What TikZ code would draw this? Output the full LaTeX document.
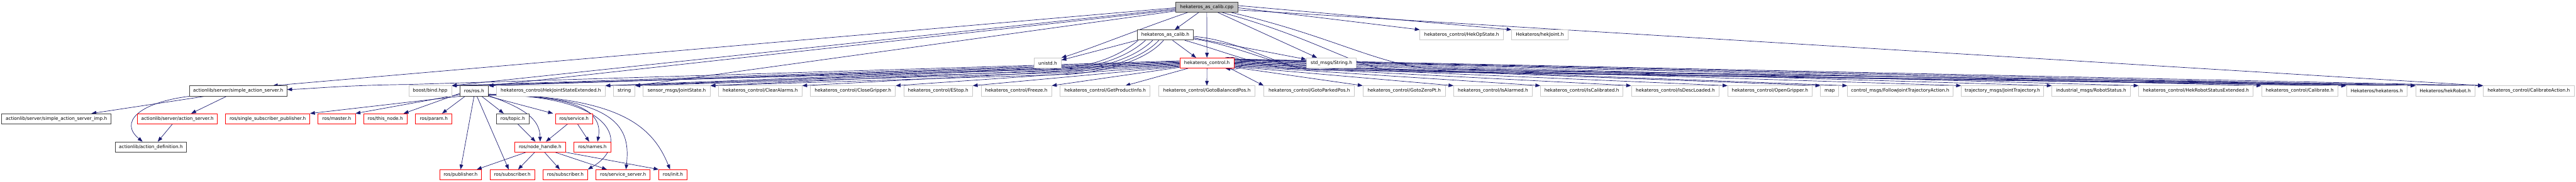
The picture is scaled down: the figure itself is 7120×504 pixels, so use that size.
\documentclass[tikz,border=0pt]{standalone}
\usepackage{fontspec}
\setmainfont{DejaVu Sans}
\usetikzlibrary{arrows.meta,calc}
\pgfdeclarelayer{bg}
\pgfsetlayers{bg,main}
\definecolor{edgeblue}{HTML}{191970}
\definecolor{darkb}{HTML}{404040}
\definecolor{lightb}{HTML}{C8C8C8}
\definecolor{mainfill}{HTML}{BFBFBF}
\begin{document}
\begin{tikzpicture}[x=0.5pt,y=-0.5pt,
  box/.style={rectangle, draw, fill=white, minimum height=14pt, inner xsep=1pt, inner ysep=0pt, line width=0.75pt, font=\fontsize{6.37pt}{7.6pt}\selectfont, text=black},
  mainbox/.style={box, fill=mainfill, draw=darkb},
  docbox/.style={box, draw=darkb},
  redbox/.style={box, draw=red},
  extbox/.style={box, draw=lightb},
  dep/.style={draw=edgeblue, line width=0.6pt, -{Triangle[length=6.7pt,width=5pt]}}
]
\useasboundingbox (0,0) rectangle (7120,504);
% row 0-2
\node[mainbox, minimum width=85.5pt] (cpp) at (3335.5,19.5) {hekateros\_as\_calib.cpp};
\node[docbox, minimum width=78pt] (ash) at (3221,97) {hekateros\_as\_calib.h};
\node[extbox, minimum width=115.2pt] (opst) at (4040,97) {hekateros\_control/HekOpState.h};
\node[extbox, minimum width=77.5pt] (hjoint) at (4256,97) {Hekateros/hekJoint.h};
\node[redbox, minimum width=75pt] (ctrl) at (3336,174.5) {hekateros\_control.h};
\node[extbox, minimum width=37pt] (unistd) at (2896,174.5) {unistd.h};
\node[extbox, minimum width=69pt] (strmsg) at (3680,174.5) {std\_msgs/String.h};
% row 3
\node[docbox, minimum width=134.75pt] (sas) at (658.25,252) {actionlib/server/simple\_action\_server.h};
\node[extbox, minimum width=59pt] (bind) at (1189,252) {boost/bind.hpp};
\node[docbox, minimum width=39.25pt] (ros) at (1310.25,252) {ros/ros.h};
\node[extbox, minimum width=150pt] (hjse) at (1522.5,252) {hekateros\_control/HekJointStateExtended.h};
\node[extbox, minimum width=29.5pt] (string) at (1725.5,252) {string};
\node[extbox, minimum width=92.5pt] (jstate) at (1870.5,252) {sensor\_msgs/JointState.h};
\node[extbox, minimum width=115.3pt] (clr) at (2101.3,252) {hekateros\_control/ClearAlarms.h};
\node[extbox, minimum width=117.5pt] (close) at (2357.5,252) {hekateros\_control/CloseGripper.h};
\node[extbox, minimum width=95pt] (estop) at (2593,252) {hekateros\_control/EStop.h};
\node[extbox, minimum width=97.4pt] (freeze) at (2809.1,252) {hekateros\_control/Freeze.h};
\node[extbox, minimum width=124pt] (gpi) at (3054.5,252) {hekateros\_control/GetProductInfo.h};
\node[extbox, minimum width=133.2pt] (gbal) at (3335.8,252) {hekateros\_control/GotoBalancedPos.h};
\node[extbox, minimum width=125.3pt] (gpark) at (3618.7,252) {hekateros\_control/GotoParkedPos.h};
\node[extbox, minimum width=114.2pt] (gzero) at (3881.2,252) {hekateros\_control/GotoZeroPt.h};
\node[extbox, minimum width=108.5pt] (isal) at (4126.5,252) {hekateros\_control/IsAlarmed.h};
\node[extbox, minimum width=114pt] (iscal) at (4372,252) {hekateros\_control/IsCalibrated.h};
\node[extbox, minimum width=121.5pt] (isdesc) at (4630.5,252) {hekateros\_control/IsDescLoaded.h};
\node[extbox, minimum width=116.5pt] (open) at (4892,252) {hekateros\_control/OpenGripper.h};
\node[extbox, minimum width=25.2pt] (map) at (5057.2,252) {map};
\node[extbox, minimum width=145.5pt] (fjta) at (5252,252) {control\_msgs/FollowJointTrajectoryAction.h};
\node[extbox, minimum width=113.5pt] (jtraj) at (5534.5,252) {trajectory\_msgs/JointTrajectory.h};
\node[extbox, minimum width=108.2pt] (rstat) at (5779.8,252) {industrial\_msgs/RobotStatus.h};
\node[extbox, minimum width=158pt] (hrse) at (6069.5,252) {hekateros\_control/HekRobotStatusExtended.h};
\node[extbox, minimum width=105.2pt] (calib) at (6356.2,252) {hekateros\_control/Calibrate.h};
\node[extbox, minimum width=83.75pt] (hek) at (6569.25,252) {Hekateros/hekateros.h};
\node[extbox, minimum width=81.5pt] (hrob) at (6758.5,252) {Hekateros/hekRobot.h};
\node[extbox, minimum width=125.6pt] (cact) at (6989.2,252) {hekateros\_control/CalibrateAction.h};
% row 4
\node[docbox, minimum width=151.2pt] (imp) at (155.8,329) {actionlib/server/simple\_action\_server\_imp.h};
\node[redbox, minimum width=110.5pt] (asrv) at (490.5,329) {actionlib/server/action\_server.h};
\node[redbox, minimum width=116.2pt] (ssp) at (739.9,329) {ros/single\_subscriber\_publisher.h};
\node[redbox, minimum width=51.5pt] (master) at (930.5,329) {ros/master.h};
\node[redbox, minimum width=60pt] (thisn) at (1065,329) {ros/this\_node.h};
\node[redbox, minimum width=50.2pt] (param) at (1198.9,329) {ros/param.h};
\node[docbox, minimum width=44.8pt] (topic) at (1417.2,329) {ros/topic.h};
\node[redbox, minimum width=51.5pt] (service) at (1586.5,329) {ros/service.h};
% row 5
\node[docbox, minimum width=97.6pt] (adef) at (417.1,407) {actionlib/action\_definition.h};
\node[redbox, minimum width=70pt] (nh) at (1493,407) {ros/node\_handle.h};
\node[redbox, minimum width=51.6pt] (names) at (1637.4,407) {ros/names.h};
% row 6
\node[redbox, minimum width=57.4pt] (pub) at (1273,484) {ros/publisher.h};
\node[redbox, minimum width=61.5pt] (sub1) at (1416,484) {ros/subscriber.h};
\node[redbox, minimum width=61.6pt] (sub2) at (1562.4,484) {ros/subscriber.h};
\node[redbox, minimum width=74.5pt] (ss) at (1722.2,484) {ros/service\_server.h};
\node[redbox, minimum width=39pt] (init) at (1860,484) {ros/init.h};

\begin{pgfonlayer}{bg}
% lower part
\draw[dep] ($(sas.south)+(-92,0)$) -- ($(imp.north)+(97,0)$);
\draw[dep] (sas.south west) .. controls (380,285) and (330,340) .. ($(adef.north)+(-23,0)$);
\draw[dep] ($(sas.south)+(-32,0)$) -- ($(asrv.north)+(38,0)$);
\draw[dep] ($(asrv.south)+(-14,0)$) -- ($(adef.north)+(19,0)$);
\draw[dep] (ros.south west) -- (ssp.north east);
\draw[dep] ($(ros.west)+(0,10)$) -- (master.north east);
\draw[dep] ($(ros.west)+(0,7)$) -- ($(thisn.north east)+(-10,0)$);
\draw[dep] ($(ros.south)+(-25,0)$) -- ($(param.north)+(23,0)$);
\draw[dep] ($(ros.south)+(21,0)$) -- ($(topic.north)+(-25,0)$);
\draw[dep] (ros.south east) -- ($(service.north)+(-58,0)$);
\draw[dep] ($(ros.south east)+(0,-2)$) .. controls (1450,300) and (1492,330) .. (nh.north);
\draw[dep] ($(ros.south east)+(0,-3)$) .. controls (1620,262) and (1665,320) .. ($(names.north)+(14,0)$);
\draw[dep] ($(ros.south east)+(0,-4)$) .. controls (1700,262) and (1745,400) .. (sub2.north east);
\draw[dep] ($(ros.south east)+(0,-5)$) .. controls (1720,268) and (1742,360) .. ($(ss.north)+(8,0)$);
\draw[dep] ($(ros.south east)+(0,-6)$) .. controls (1700,268) and (1800,340) .. ($(init.north)+(-8,0)$);
\draw[dep] (ros.south) -- (pub.north);
\draw[dep] ($(ros.south)+(8,0)$) -- ($(sub1.north)+(-10,0)$);
\draw[dep] ($(topic.south)+(14,0)$) -- ($(nh.north)+(-13,0)$);
\draw[dep] ($(service.south)+(-18,0)$) -- ($(nh.north)+(16,0)$);
\draw[dep] ($(service.south)+(10,0)$) -- ($(names.north)+(-9,0)$);
\draw[dep] ($(nh.south)+(-39,0)$) -- ($(pub.north)+(45,0)$);
\draw[dep] ($(nh.south)+(-15,0)$) -- ($(sub1.north)+(16,0)$);
\draw[dep] ($(nh.south)+(12,0)$) -- ($(sub2.north)+(-15,0)$);
\draw[dep] ($(nh.south)+(41,0)$) -- ($(ss.north)+(-45,0)$);
\draw[dep] (nh.south east) -- (init.north west);
% from cpp
\draw[dep] ($(cpp.south)+(-22,0)$) -- ($(ash.north)+(26,0)$);
\draw[dep] (cpp.south) -- (ctrl.north);
\draw[dep] ($(cpp.south)+(-52,0)$) .. controls (3150,80) and (3000,140) .. (unistd.north east);
\draw[dep] ($(cpp.west)+(0,2)$) -- ($(sas.north)+(96,0)$);
\draw[dep] ($(cpp.west)+(0,5)$) -- (bind.north east);
\draw[dep] ($(cpp.west)+(0,8)$) -- (ros.north east);
\draw[dep] ($(cpp.west)+(0,11)$) -- (string.north east);
\draw[dep] ($(cpp.east)+(0,-4)$) -- (hjoint.north west);
\draw[dep] ($(cpp.east)+(0,2)$) -- (opst.north west);
\draw[dep] ($(cpp.south)+(30,0)$) -- ($(strmsg.north)+(-40,0)$);
\draw[dep] ($(cpp.east)+(0,8)$) -- (cact.north west);
\draw[dep] ($(cpp.south east)+(-45,0)$) .. controls (3650,110) and (3740,185) .. (3860,198) -- (hek.north west);
\draw[dep] ($(cpp.south east)+(-20,0)$) .. controls (3680,100) and (3800,175) .. (3950,190) -- (hrob.north west);
% from ash
\draw[dep] ($(ash.south)+(20,0)$) -- ($(ctrl.north)+(-30,0)$);
\draw[dep] (ash.south west) -- ($(unistd.east)+(0,-8)$);
\draw[dep] ($(ash.east)+(0,8)$) -- ($(strmsg.west)+(0,-10)$);
\draw[dep] ($(ash.south)+(-75,0)$) .. controls +(-60,50) and +(60,-3) .. (2950,186) -- (ros.north east);
\draw[dep] ($(ash.south)+(-55,0)$) .. controls +(-60,55) and +(60,-3) .. (2950,191) -- (bind.north east);
\draw[dep] ($(ash.south)+(-35,0)$) .. controls +(-60,60) and +(60,-3) .. (2950,196) -- (hjse.north east);
\draw[dep] ($(ash.south)+(-18,0)$) .. controls +(-60,65) and +(60,-3) .. (2950,201) -- (string.north east);
\draw[dep] ($(ash.south)+(-5,0)$) .. controls +(-60,70) and +(60,-3) .. (2950,206) -- (jstate.north east);
\draw[dep] ($(ash.east)+(0,4)$) .. controls +(120,10) and +(-80,-12) .. (3600,188) -- (cact.north west);
\draw[dep] ($(ash.east)+(0,11)$) .. controls +(110,15) and +(-80,-10) .. (3620,194) -- (hrob.north west);
\draw[dep] ($(ash.south east)+(-25,0)$) .. controls +(90,25) and +(-80,-8) .. (3560,190) -- (hek.north west);
% from ctrl
\draw[dep] (ctrl.north east) ++(-25,0) .. controls ($(ctrl.north east)+(35,-8)$) and ($(ctrl.south east)+(35,8)$) .. ($(ctrl.south east)+(-25,0)$);
\draw[dep] ($(ctrl.west)+(0,-6)$) -- (1130,234) .. controls (950,236) and (860,246) .. ($(sas.east)+(0,-4)$);
\draw[dep] ($(ctrl.west)+(0,-4)$) -- (bind.north east);
\draw[dep] ($(ctrl.west)+(0,-2)$) -- (ros.north east);
\draw[dep] ($(ctrl.west)+(0,0)$) -- (hjse.north east);
\draw[dep] ($(ctrl.west)+(0,2)$) -- (string.north east);
\draw[dep] ($(ctrl.west)+(0,4)$) -- (jstate.north east);
\draw[dep] ($(ctrl.west)+(0,6)$) -- (clr.north east);
\draw[dep] ($(ctrl.west)+(0,8)$) -- (close.north east);
\draw[dep] ($(ctrl.west)+(0,10)$) -- (estop.north east);
\draw[dep] ($(ctrl.west)+(0,12)$) -- (freeze.north east);
\draw[dep] ($(ctrl.south)+(-52,0)$) -- ($(gpi.north)+(56,0)$);
\draw[dep] (ctrl.south) -- (gbal.north);
\draw[dep] ($(ctrl.south east)+(-12,0)$) -- (gpark.north west);
\draw[dep] ($(ctrl.east)+(0,12)$) -- (gzero.north west);
\draw[dep] ($(ctrl.east)+(0,10)$) -- (isal.north west);
\draw[dep] ($(ctrl.east)+(0,8)$) -- (iscal.north west);
\draw[dep] ($(ctrl.east)+(0,6)$) -- (isdesc.north west);
\draw[dep] ($(ctrl.east)+(0,4)$) -- (open.north west);
\draw[dep] ($(ctrl.east)+(0,2)$) -- (map.north west);
\draw[dep] ($(ctrl.east)+(0,0)$) -- (fjta.north west);
\draw[dep] ($(ctrl.east)+(0,-2)$) -- (jtraj.north west);
\draw[dep] ($(ctrl.east)+(0,-4)$) -- (rstat.north west);
\draw[dep] ($(ctrl.east)+(0,-6)$) -- (hrse.north west);
\draw[dep] ($(ctrl.east)+(0,-8)$) -- (calib.north west);
\draw[dep] ($(ctrl.east)+(0,-9)$) -- (hek.north west);
\draw[dep] ($(ctrl.east)+(0,-10)$) -- (hrob.north west);
\draw[dep] ($(ctrl.east)+(0,-11)$) -- (cact.north west);
\end{pgfonlayer}
\end{tikzpicture}
\end{document}
